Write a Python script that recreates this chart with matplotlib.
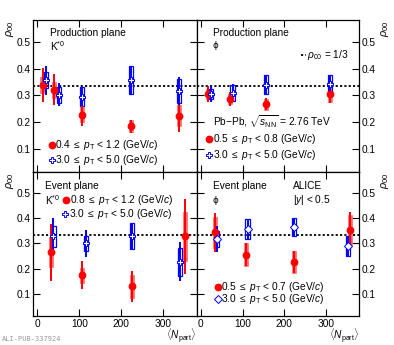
import matplotlib
matplotlib.use("Agg")
import matplotlib.pyplot as plt
from matplotlib.patches import Rectangle

plt.rcParams['font.family'] = ['Liberation Sans', 'DejaVu Sans']
plt.rcParams['mathtext.fontset'] = 'custom'
plt.rcParams['mathtext.rm'] = 'Liberation Sans'
plt.rcParams['mathtext.it'] = 'Liberation Sans:italic'
plt.rcParams['mathtext.bf'] = 'Liberation Sans:bold'

# ---------------- data ----------------
# Top-left: production plane, K*0
pk_red_npart = [12, 40, 106, 223, 338]
pk_red_val = [0.339, 0.321, 0.227, 0.184, 0.223]
pk_red_stat = [0.063, 0.059, 0.042, 0.024, 0.060]
pk_red_sys = [0.030, 0.030, 0.028, 0.022, 0.040]
pk_blue_npart = [20, 52, 106, 223, 338]
pk_blue_val = [0.356, 0.302, 0.295, 0.356, 0.315]
pk_blue_stat = [0.055, 0.044, 0.035, 0.050, 0.052]
pk_blue_sys = [0.030, 0.030, 0.035, 0.052, 0.045]

# Top-right: production plane, phi
pp_red_npart = [18, 70, 157, 310]
pp_red_val = [0.305, 0.286, 0.266, 0.304]
pp_red_stat = [0.030, 0.027, 0.022, 0.033]
pp_red_sys = [0.020, 0.020, 0.020, 0.030]
pp_blue_npart = [25, 76, 157, 310]
pp_blue_val = [0.305, 0.308, 0.339, 0.343]
pp_blue_stat = [0.030, 0.033, 0.036, 0.033]
pp_blue_sys = [0.020, 0.030, 0.036, 0.033]

# Bottom-left: event plane, K*0
ek_red_npart = [33, 107, 225, 352]
ek_red_val = [0.264, 0.173, 0.130, 0.327]
ek_red_stat = [0.113, 0.055, 0.061, 0.150]
ek_red_sys = [0.060, 0.030, 0.046, 0.097]
ek_blue_npart = [38, 115, 225, 340]
ek_blue_val = [0.327, 0.300, 0.328, 0.226]
ek_blue_stat = [0.072, 0.054, 0.051, 0.077]
ek_blue_sys = [0.040, 0.030, 0.051, 0.055]

# Bottom-right: event plane, phi
ep_red_npart = [33, 108, 224, 358]
ep_red_val = [0.343, 0.255, 0.226, 0.352]
ep_red_stat = [0.078, 0.047, 0.043, 0.072]
ep_red_sys = [0.060, 0.045, 0.043, 0.060]
ep_blue_npart = [39, 112, 224, 352]
ep_blue_val = [0.317, 0.357, 0.364, 0.290]
ep_blue_stat = [0.053, 0.040, 0.037, 0.040]
ep_blue_sys = [0.030, 0.040, 0.037, 0.040]

xticks = [0, 100, 200, 300]
yticks = [0.1, 0.2, 0.3, 0.4, 0.5]

RED = '#ff0000'
RED_BOX = '#ff6a6a'
BLUE = '#0000ff'
FS = 7.3

fig = plt.figure(figsize=(3.94, 3.45), dpi=100)
W = 394.0
H = 345.0

def px_axes(x0, y0, x1, y1):
    return fig.add_axes([x0 / W, 1 - y1 / H, (x1 - x0) / W, (y1 - y0) / H])

ax_tl = px_axes(33.3, 20, 196.7, 172)
ax_tr = px_axes(196.7, 20, 359.3, 172)
ax_bl = px_axes(33.3, 172, 196.7, 316)
ax_br = px_axes(196.7, 172, 359.3, 316)

BOXW = 10.0

def draw_series(ax, npart, val, stat, sys, color, marker, filled):
    for x, v, st, sy in zip(npart, val, stat, sys):
        if filled:
            ax.add_patch(Rectangle((x - BOXW / 2, v - sy), BOXW, 2 * sy,
                                   facecolor=RED_BOX, edgecolor=RED_BOX,
                                   lw=0.5, zorder=3))
        else:
            ax.add_patch(Rectangle((x - BOXW / 2, v - sy), BOXW, 2 * sy,
                                   facecolor='none', edgecolor=color,
                                   lw=0.9, zorder=4))
    ax.errorbar(npart, val, yerr=stat, fmt='none', ecolor=color,
                elinewidth=1.4, capsize=0, zorder=5)
    if filled:
        ax.plot(npart, val, ls='none', marker=marker, ms=4.6, mfc=color,
                mec=color, zorder=6)
    else:
        ms = 3.8 if marker == 'D' else 4.6
        ax.plot(npart, val, ls='none', marker=marker, ms=ms, mfc='white',
                mec=color, mew=0.7, zorder=6)

for ax in (ax_tl, ax_tr, ax_bl, ax_br):
    ax.set_xlim(-10, 380)
    ax.set_ylim(0.012, 0.582)
    ax.set_xticks(xticks)
    ax.set_yticks(yticks)
    ax.tick_params(direction='in', top=True, right=True, length=5,
                   width=0.8, labelsize=FS, pad=2)
    ax.axhline(1 / 3, color='black', ls=(0, (1.2, 1.2)), lw=1.3, zorder=2)
    for s in ax.spines.values():
        s.set_linewidth(0.9)

for ax in (ax_tl, ax_tr):
    ax.tick_params(labelbottom=False)
for ax in (ax_tr, ax_br):
    ax.tick_params(labelleft=False, labelright=True)

draw_series(ax_tl, pk_red_npart, pk_red_val, pk_red_stat, pk_red_sys, RED, 'o', True)
draw_series(ax_tl, pk_blue_npart, pk_blue_val, pk_blue_stat, pk_blue_sys, BLUE, 'P', False)
draw_series(ax_tr, pp_red_npart, pp_red_val, pp_red_stat, pp_red_sys, RED, 'o', True)
draw_series(ax_tr, pp_blue_npart, pp_blue_val, pp_blue_stat, pp_blue_sys, BLUE, 'P', False)
draw_series(ax_bl, ek_red_npart, ek_red_val, ek_red_stat, ek_red_sys, RED, 'o', True)
draw_series(ax_bl, ek_blue_npart, ek_blue_val, ek_blue_stat, ek_blue_sys, BLUE, 'P', False)
draw_series(ax_br, ep_red_npart, ep_red_val, ep_red_stat, ep_red_sys, RED, 'o', True)
draw_series(ax_br, ep_blue_npart, ep_blue_val, ep_blue_stat, ep_blue_sys, BLUE, 'D', False)

def txt(ax, x, y, s, **kw):
    kw.setdefault('fontsize', FS)
    ax.text(x, y, s, transform=ax.transAxes, va='center', **kw)

def legend_entry(ax, x, y, s, color, marker, filled):
    if filled:
        ax.plot([x], [y], transform=ax.transAxes, marker=marker, ms=4.6,
                mfc=color, mec=color, ls='none', clip_on=False)
    else:
        ms = 3.8 if marker == 'D' else 4.6
        ax.plot([x], [y], transform=ax.transAxes, marker=marker, ms=ms,
                mfc='white', mec=color, mew=0.7, ls='none', clip_on=False)
    txt(ax, x + 0.022, y, s)

# Top-left
txt(ax_tl, 0.10, 0.915, 'Production plane')
txt(ax_tl, 0.10, 0.83, r'K$^{*0}$')
legend_entry(ax_tl, 0.113, 0.178, r'0.4 $\leq$ $p_{\rm T}$ < 1.2 (GeV/$c$)', RED, 'o', True)
legend_entry(ax_tl, 0.113, 0.08, r'3.0 $\leq$ $p_{\rm T}$ < 5.0 (GeV/$c$)', BLUE, 'P', False)

# Top-right
txt(ax_tr, 0.10, 0.915, 'Production plane')
txt(ax_tr, 0.10, 0.83, 'ϕ', family=['DejaVu Sans'], fontsize=FS - 1)
ax_tr.plot([0.64, 0.67], [0.77, 0.77], transform=ax_tr.transAxes, color='black',
           ls=(0, (1.2, 1.2)), lw=1.3)
txt(ax_tr, 0.68, 0.77, r'$\rho_{00}$ = 1/3')
txt(ax_tr, 0.10, 0.33, r'Pb$-$Pb, $\sqrt{s_{\rm NN}}$ = 2.76 TeV')
legend_entry(ax_tr, 0.077, 0.217, r'0.5 $\leq$ $p_{\rm T}$ < 0.8 (GeV/$c$)', RED, 'o', True)
legend_entry(ax_tr, 0.077, 0.11, r'3.0 $\leq$ $p_{\rm T}$ < 5.0 (GeV/$c$)', BLUE, 'P', False)

# Bottom-left
txt(ax_bl, 0.07, 0.905, 'Event plane')
txt(ax_bl, 0.07, 0.805, r'K$^{*0}$')
legend_entry(ax_bl, 0.20, 0.805, r'0.8 $\leq$ $p_{\rm T}$ < 1.2 (GeV/$c$)', RED, 'o', True)
legend_entry(ax_bl, 0.195, 0.705, r'3.0 $\leq$ $p_{\rm T}$ < 5.0 (GeV/$c$)', BLUE, 'P', False)

# Bottom-right
txt(ax_br, 0.10, 0.905, 'Event plane')
txt(ax_br, 0.10, 0.805, 'ϕ', family=['DejaVu Sans'], fontsize=FS - 1)
txt(ax_br, 0.59, 0.905, 'ALICE')
txt(ax_br, 0.59, 0.805, r'|$y$| < 0.5')
legend_entry(ax_br, 0.13, 0.198, r'0.5 $\leq$ $p_{\rm T}$ < 0.7 (GeV/$c$)', RED, 'o', True)
legend_entry(ax_br, 0.13, 0.12, r'3.0 $\leq$ $p_{\rm T}$ < 5.0 (GeV/$c$)', BLUE, 'D', False)

# Axis labels
for ax in (ax_tl, ax_bl):
    ax.text(-0.145, 1.0, r'$\rho_{00}$', transform=ax.transAxes, rotation=90,
            va='top', ha='center', fontsize=FS + 0.5)
for ax in (ax_tr, ax_br):
    ax.text(1.16, 1.0, r'$\rho_{00}$', transform=ax.transAxes, rotation=90,
            va='top', ha='center', fontsize=FS + 0.5)
for ax in (ax_bl, ax_br):
    ax.text(1.0, -0.133, r'$\langle N_{\rm part}\rangle$', transform=ax.transAxes,
            ha='right', va='center', fontsize=FS)

fig.text(2 / W, 1 - 339 / H, 'ALI-PUB-337924', family='DejaVu Sans Mono',
         fontsize=5, color='#999999', va='center', ha='left')

fig.savefig('out.png', dpi=100)
